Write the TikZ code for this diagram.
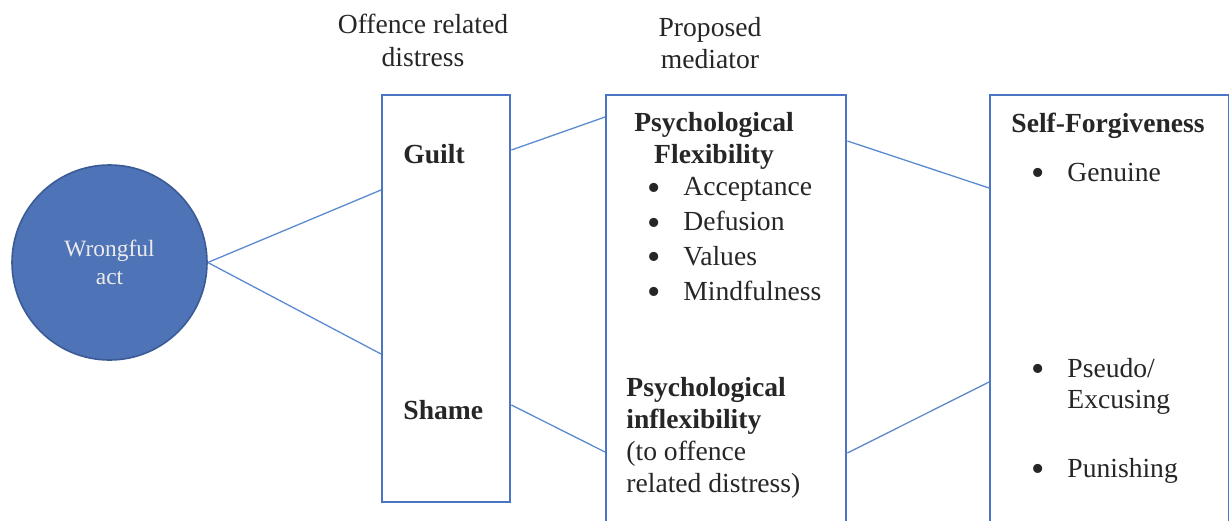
\documentclass[tikz,border=0pt]{standalone}
\usepackage{fontspec}
\setmainfont{Liberation Serif}
\usepackage{xcolor}
\usetikzlibrary{calc}

\definecolor{boxblue}{HTML}{4A74C4}
\definecolor{lineblue}{HTML}{5B8AD0}
\definecolor{actfill}{HTML}{4F73B7}
\definecolor{actdraw}{HTML}{3A5B96}

\newcommand{\listdot}{\makebox[18pt][l]{\raisebox{-2.3pt}{\fontsize{19}{19}\selectfont\textbullet}}}

\begin{document}
\begin{tikzpicture}[
		x=0.5pt, y=-0.5pt,
		box/.style={
			draw=boxblue,
			line width=1.2pt,
			anchor=north west,
			inner sep=0pt
		},
		txt/.style={
			anchor=base west,
			inner sep=0pt,
			align=left,
			text=black!85,
			font=\fontsize{13.8}{16}\selectfont
		},
		bold/.style={
			txt,
			font=\fontsize{13.8}{16}\selectfont\bfseries
		},
		link/.style={draw=lineblue, line width=0.65pt}
		]
		\useasboundingbox (0,0) rectangle (1229,520);
		\clip (0,0) rectangle (1229,520);
		
		% Starting point
		\node[circle, fill=actfill, draw=actdraw, line width=0.8pt,
			minimum size=97.5pt, inner sep=0pt, align=center,
			text=white!92!black, font=\fontsize{11.7}{14}\selectfont]
			(act) at (109.5,262.5) {Wrongful\\act};
		
		% Column headings (base = last line)
		\node[txt, anchor=base, align=center, font=\fontsize{13.8}{16.5}\selectfont]
			(distresshead) at (423,66) {Offence related\\distress};
		\node[txt, anchor=base, align=center]
			(mediatorhead) at (710,68) {Proposed\\mediator};
		
		% Boxes
		\node[box, minimum width=64pt, minimum height=203.5pt] (distress) at (381,94) {};
		\node[box, minimum width=120pt, minimum height=225pt] (mediator) at (605,94) {};
		\node[box, minimum width=119.5pt, minimum height=225pt] (forgive) at (989,94) {};
		
		% Offence related distress
		\node[bold] (guilt) at (403,163) {Guilt};
		\node[bold] (shame) at (403,419) {Shame};
		
		% Proposed mediator
		\node[bold, anchor=base, align=center] (flex) at (714,163) {Psychological\\Flexibility};
		\node[txt, font=\fontsize{13.8}{17.35}\selectfont] (flexlist) at (647,300) {
			\listdot Acceptance\\
			\listdot Defusion\\
			\listdot Values\\
			\listdot Mindfulness
		};
		\node[txt] (inflex) at (626,492) {
			\textbf{Psychological}\\
			\textbf{inflexibility}\\
			(to offence\\
			related distress)
		};
		
		% Self-forgiveness
		\node[bold] (sfhead) at (1011,132) {Self-Forgiveness};
		\node[txt] (genuine) at (1031,181) {\listdot Genuine};
		\node[txt, font=\fontsize{13.8}{15.5}\selectfont] (pseudo) at (1031,408) {
			\listdot Pseudo/\\
			\hspace*{18pt}Excusing
		};
		\node[txt] (punish) at (1031,477) {\listdot Punishing};
		
		% Connectors
		\draw[link] (act.east) -- ($(distress.north west)+(0,96)$);
		\draw[link] (act.east) -- ($(distress.north west)+(0,260)$);
		\draw[link] ($(distress.north east)+(0,56)$) -- ($(mediator.north west)+(0,23)$);
		\draw[link] ($(distress.north east)+(0,311)$) -- ($(mediator.north west)+(0,358)$);
		\draw[link] ($(mediator.north east)+(0,47)$) -- ($(forgive.north west)+(0,94)$);
		\draw[link] ($(mediator.north east)+(0,359)$) -- ($(forgive.north west)+(0,288)$);
		
	\end{tikzpicture}
\end{document}
